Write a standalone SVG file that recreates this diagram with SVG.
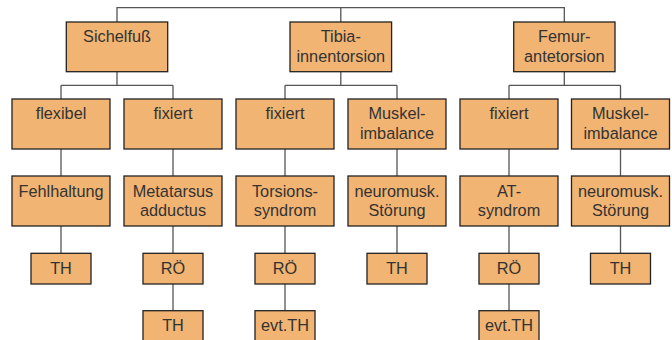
<svg xmlns="http://www.w3.org/2000/svg" width="672" height="340" viewBox="0 0 672 340">
<style>
.b{fill:#F2B472;stroke:#222;stroke-width:1.3}
.t{font-family:"Liberation Sans",Arial,sans-serif;font-size:16.3px;fill:#333;text-anchor:middle}
.c{fill:none;stroke:#555;stroke-width:1.3}
</style>
<rect width="672" height="340" fill="#fff"/>
<g id="connectors" class="c">
<path d="M117,22V7.7H564.3V22M340.8,7.7V22"/>
<path d="M117,71.7V85.3M61,85.3H173M61,85.3V99M173,85.3V99"/>
<path d="M340.8,71.7V85.3M285,85.3H397M285,85.3V99M397,85.3V99"/>
<path d="M564.3,71.7V85.3M509,85.3H620.5M509,85.3V99M620.5,85.3V99"/>
<path d="M61,149V176M173,149V176M285,149V176M397,149V176M509,149V176M620.5,149V176"/>
<path d="M61,226V253.3M173,226V253.3M285,226V253.3M397,226V253.3M509,226V253.3M620.5,226V253.3"/>
<path d="M173,284V310.7M285,284V310.7M509,284V310.7"/>
</g>
<g id="sichelfuss"><rect class="b" x="66.3" y="22" width="101.4" height="49.7"/><text class="t" x="117" y="42">Sichelfuß</text></g>
<g id="tibia"><rect class="b" x="290" y="22" width="101.6" height="49.7"/><text class="t" x="340.8" y="42">Tibia-</text><text class="t" x="340.8" y="62.4">innentorsion</text></g>
<g id="femur"><rect class="b" x="513.7" y="22" width="101.3" height="49.7"/><text class="t" x="564.3" y="42">Femur-</text><text class="t" x="564.3" y="62.4">antetorsion</text></g>

<g id="flexibel"><rect class="b" x="12" y="99" width="98" height="50"/><text class="t" x="61" y="119">flexibel</text></g>
<g id="fixiert1"><rect class="b" x="124" y="99" width="98" height="50"/><text class="t" x="173" y="119">fixiert</text></g>
<g id="fixiert2"><rect class="b" x="236" y="99" width="98" height="50"/><text class="t" x="285" y="119">fixiert</text></g>
<g id="muskel1"><rect class="b" x="348" y="99" width="98" height="50"/><text class="t" x="397" y="119">Muskel-</text><text class="t" x="397" y="139">imbalance</text></g>
<g id="fixiert3"><rect class="b" x="460" y="99" width="98" height="50"/><text class="t" x="509" y="119">fixiert</text></g>
<g id="muskel2"><rect class="b" x="571.5" y="99" width="98" height="50"/><text class="t" x="620.5" y="119">Muskel-</text><text class="t" x="620.5" y="139">imbalance</text></g>

<g id="fehlhaltung"><rect class="b" x="12" y="176" width="98" height="50"/><text class="t" x="61" y="196.5">Fehlhaltung</text></g>
<g id="metatarsus"><rect class="b" x="124" y="176" width="98" height="50"/><text class="t" x="173" y="196.5">Metatarsus</text><text class="t" x="173" y="215.7">adductus</text></g>
<g id="torsionssyndrom"><rect class="b" x="236" y="176" width="98" height="50"/><text class="t" x="285" y="196.5">Torsions-</text><text class="t" x="285" y="215.7">syndrom</text></g>
<g id="neuro1"><rect class="b" x="348" y="176" width="98" height="50"/><text class="t" x="397" y="196.5">neuromusk.</text><text class="t" x="397" y="215.7">Störung</text></g>
<g id="atsyndrom"><rect class="b" x="460" y="176" width="98" height="50"/><text class="t" x="509" y="196.5">AT-</text><text class="t" x="509" y="215.7">syndrom</text></g>
<g id="neuro2"><rect class="b" x="571.5" y="176" width="98" height="50"/><text class="t" x="620.5" y="196.5">neuromusk.</text><text class="t" x="620.5" y="215.7">Störung</text></g>

<g id="th1"><rect class="b" x="31" y="253.3" width="60" height="30.7"/><text class="t" x="61" y="273.5">TH</text></g>
<g id="ro1"><rect class="b" x="143" y="253.3" width="60" height="30.7"/><text class="t" x="173" y="273.5">RÖ</text></g>
<g id="ro2"><rect class="b" x="255" y="253.3" width="60" height="30.7"/><text class="t" x="285" y="273.5">RÖ</text></g>
<g id="th2"><rect class="b" x="367" y="253.3" width="60" height="30.7"/><text class="t" x="397" y="273.5">TH</text></g>
<g id="ro3"><rect class="b" x="479" y="253.3" width="60" height="30.7"/><text class="t" x="509" y="273.5">RÖ</text></g>
<g id="th3"><rect class="b" x="590.5" y="253.3" width="60" height="30.7"/><text class="t" x="620.5" y="273.5">TH</text></g>

<g id="th4"><rect class="b" x="143" y="310.7" width="60" height="31"/><text class="t" x="173" y="330.8">TH</text></g>
<g id="evtth1"><rect class="b" x="255" y="310.7" width="60" height="31"/><text class="t" x="285" y="330.8">evt.TH</text></g>
<g id="evtth2"><rect class="b" x="479" y="310.7" width="60" height="31"/><text class="t" x="509" y="330.8">evt.TH</text></g>
</svg>
